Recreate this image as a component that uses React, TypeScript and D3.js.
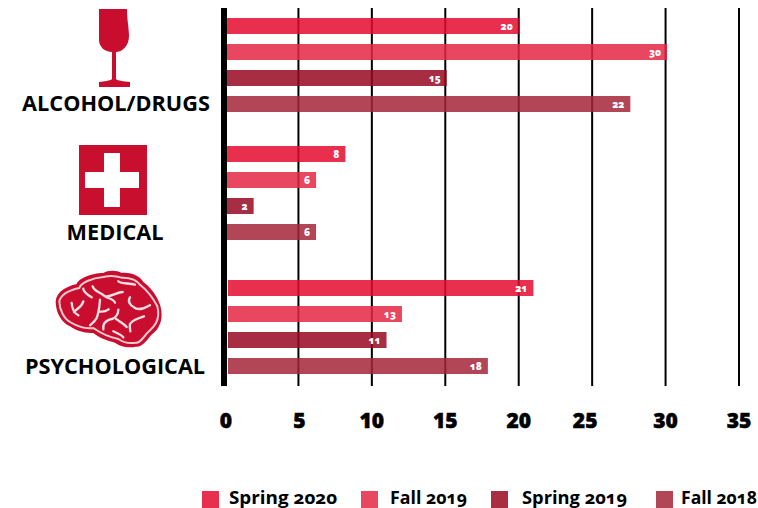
import React from 'react';
import * as d3 from 'd3';

const categories = ['ALCOHOL/DRUGS', 'MEDICAL', 'PSYCHOLOGICAL'];
const seriesNames = ['Spring 2020', 'Fall 2019', 'Spring 2019', 'Fall 2018'];
const seriesColors = ['#e40b2f', '#e52643', '#980921', '#a42538'];
const legendColors = ['#e8304e', '#e9475f', '#a82e42', '#b24656'];

// bar lengths as drawn; the 22 and 13 bars do not agree with their printed labels in the source
const alcoholValues = [20, 30.1, 15.1, 27.6];
const medicalValues = [8.2, 6.2, 1.95, 6.2];
const psychValues = [21, 12.05, 11, 17.9];
const alcoholLabels = ['20', '30', '15', '22'];
const medicalLabels = ['8', '6', '2', '6'];
const psychLabels = ['21', '13', '11', '18'];
const ticks = [0, 5, 10, 15, 20, 25, 30, 35];

const width = 758;
const height = 508;

const x = d3.scaleLinear().domain([0, 35]).range([225, 739]);
const groupY = d3.scaleOrdinal<string, number>().domain(categories).range([18, 146, 280]);
const barY = d3.scaleBand<string>().domain(seriesNames).range([0, 94]).paddingInner(10 / 26);
const legendSwatchX = d3.scaleOrdinal<string, number>().domain(seriesNames).range([202, 361, 491, 656]);
const legendTextX = d3.scaleOrdinal<string, number>().domain(seriesNames).range([229, 390, 522, 681]);
const legendTextW = d3.scaleOrdinal<string, number>().domain(seriesNames).range([108, 77, 105, 76]);
const catLabelX = d3.scaleOrdinal<string, number>().domain(categories).range([116, 115, 115]);
const catLabelY = d3.scaleOrdinal<string, number>().domain(categories).range([111, 240, 374]);
const tickNudge = d3.scaleOrdinal<number, number>().domain(ticks).range([1, 1, 0, 0, 0, -7, 0, 0]);

const groups = [
  { name: categories[0], values: alcoholValues, labels: alcoholLabels },
  { name: categories[1], values: medicalValues, labels: medicalLabels },
  { name: categories[2], values: psychValues, labels: psychLabels },
];

const iconRed = '#c8102e';
const labelFont = '"Open Sans", sans-serif';

// brain icon, drawn in a 3x local space
const brainOutline =
  'M17 100 C20 75 40 58 80 48 C85 32 125 15 160 15 C175 6 200 6 215 15 C245 12 270 25 280 42 C300 55 322 85 330 110 C338 135 335 160 328 172 C322 190 305 198 298 208 C285 225 272 238 258 236 C230 242 205 232 195 224 C170 218 145 208 130 195 C105 197 75 187 60 175 C35 165 17 135 17 100 Z';
const brainContour =
  'M28 100 C32 82 52 68 88 60 C92 45 125 30 160 27 C180 22 200 24 215 29 C245 28 262 38 272 52 C292 68 310 92 322 115 C327 135 325 152 318 165 C310 180 297 188 290 197 C278 212 268 226 258 224 C235 228 215 220 205 213 C180 208 150 194 130 180 C105 184 80 174 60 162 C42 152 28 125 28 100 Z';
const brainCuts = [
  'M65 105 C66 120 72 135 85 142 M72 132 C80 122 95 118 100 100',
  'M128 55 C132 70 150 72 165 85 C185 88 200 72 218 72 M165 85 C175 92 190 92 195 104',
  'M150 95 C148 115 148 130 140 150 C135 160 128 165 120 172 M145 130 C155 132 165 132 176 124',
  'M240 88 C232 100 240 112 252 118 C265 130 285 120 300 112',
  'M205 125 C205 140 195 152 178 155 C165 160 158 170 160 184 M195 150 C205 160 220 165 230 177',
  'M282 145 C265 150 245 158 240 168 C238 175 240 182 241 190',
  'M190 190 C200 195 212 198 220 208',
  'M100 62 C100 72 112 80 125 88',
  'M205 40 C215 48 235 45 255 50',
];

const App: React.FC = () => {
  return (
    <svg
      width={width}
      height={height}
      style={{ position: 'absolute', left: 0, top: 0, background: '#fff' }}
    >
      <defs>
        <filter id="soft" x="-5%" y="-5%" width="110%" height="110%">
          <feGaussianBlur stdDeviation="0.45" />
        </filter>
      </defs>

      {/* gridlines */}
      {ticks.slice(1).map(t => (
        <line key={t} x1={x(t)} x2={x(t)} y1={8} y2={386} stroke="#000" strokeWidth={2} />
      ))}
      <rect x={221} y={8} width={6} height={378} fill="#000" />

      {/* bars */}
      {groups.map(g =>
        seriesNames.map((s, i) => {
          const y0 = groupY(g.name) + (barY(s) as number);
          const xStart = x(0) + (g.name === categories[2] ? 3 : 2);
          const xEnd = x(g.values[i]);
          return (
            <g key={g.name + s}>
              <rect
                x={xStart}
                y={y0}
                width={xEnd - xStart}
                height={barY.bandwidth()}
                fill={seriesColors[i]}
                fillOpacity={0.85}
              />
              <text
                x={xEnd - 6}
                y={y0 + 11.5}
                textAnchor="end"
                fill="#fff"
                fontFamily={labelFont}
                fontWeight={800}
                fontSize={10}
                style={{ fontVariantNumeric: 'oldstyle-nums' }}
              >
                {g.labels[i]}
              </text>
            </g>
          );
        })
      )}

      {/* category labels */}
      {categories.map(c => (
        <text
          key={c}
          x={catLabelX(c)}
          y={catLabelY(c)}
          textAnchor="middle"
          fontFamily={labelFont}
          fontWeight={700}
          fontSize={21.7}
          fill="#000"
        >
          {c}
        </text>
      ))}

      {/* wine glass icon */}
      <path
        d="M99 9 L127 9 C127 20 129 28 129 36 C129 46 122 52 116 52 L116 79 C118 81 124 81 130 82 L130 87 L99 87 L99 82 C104 81 110 81 112 79 L112 52 C105 52 99 47 99 40 Z"
        fill={iconRed}
        filter="url(#soft)"
      />

      {/* medical cross icon */}
      <rect x={79} y={145} width={68} height={70} fill={iconRed} />
      <path
        d="M104 153 L120 153 L120 172 L139 172 L139 188 L120 188 L120 207 L104 207 L104 188 L85 188 L85 172 L104 172 Z"
        fill="#fff"
        filter="url(#soft)"
      />

      {/* brain icon */}
      <g transform="translate(50,268) scale(0.3333)" filter="url(#soft)">
        <path d={brainOutline} fill={iconRed} />
        <path d={brainContour} fill={iconRed} stroke="#f4c9d0" strokeWidth={6} />
        {brainCuts.map((d, i) => (
          <path key={i} d={d} fill="none" stroke="#f8dfe3" strokeWidth={7} strokeLinejoin="round" strokeLinecap="round" />
        ))}
      </g>

      {/* x ticks */}
      {ticks.map(t => (
        <text
          key={t}
          x={x(t) + tickNudge(t)}
          y={428}
          textAnchor="middle"
          fontFamily={labelFont}
          fontWeight={800}
          fontSize={21}
          stroke="#000"
          strokeWidth={0.5}
          fill="#000"
        >
          {t}
        </text>
      ))}

      {/* legend */}
      {seriesNames.map((s, i) => (
        <g key={s}>
          <rect x={legendSwatchX(s)} y={491} width={17} height={17} fill={legendColors[i]} />
          <text
            x={legendTextX(s)}
            y={504}
            fontFamily={labelFont}
            fontWeight={700}
            fontSize={18}
            fill="#000"
            textLength={legendTextW(s)}
            lengthAdjust="spacingAndGlyphs"
            style={{ fontVariantNumeric: 'oldstyle-nums' }}
          >
            {s}
          </text>
        </g>
      ))}
    </svg>
  );
};

export default App;
